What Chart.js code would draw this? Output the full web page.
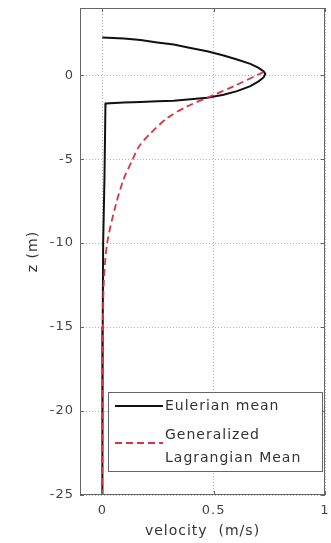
<!DOCTYPE html>
<html>
<head>
<meta charset="utf-8">
<script src="https://cdn.jsdelivr.net/npm/chart.js@4.4.0/dist/chart.umd.min.js"></script>
<style>
  html, body { margin: 0; padding: 0; background: #fff; }
</style>
</head>
<body>
<canvas id="profileChart" width="331" height="543"></canvas>
<script>
// values: depth z (m) and velocity u (m/s)
const eulerZ = [2.25, 2.19, 2.09, 1.95, 1.82, 1.62, 1.42, 1.17, 0.93, 0.67, 0.43, 0.22, 0.08,
  -0.12, -0.37, -0.65, -0.95, -1.17, -1.34, -1.44, -1.52, -1.56, -1.6, -1.62, -1.68,
  -2, -6, -10, -15, -20, -25];
const eulerU = [0, 0.097, 0.172, 0.247, 0.321, 0.396, 0.471, 0.545, 0.605, 0.665, 0.702, 0.725, 0.732,
  0.725, 0.702, 0.665, 0.605, 0.545, 0.471, 0.396, 0.321, 0.247, 0.172, 0.097, 0.015,
  0.014, 0.01, 0.004, 0.002, 0.001, 0];
const glmZ = [0.18, -0.66, -1.26, -1.86, -2.56, -3.46, -4.26, -5.06, -6.16, -7.76, -10, -12.3, -15, -20, -25];
const glmU = [0.723, 0.59, 0.486, 0.381, 0.291, 0.217, 0.164, 0.135, 0.097, 0.06, 0.022, 0.007, 0.003, 0.001, 0];
const xTicks = [0, 0.5, 1];
const yTicks = [-25, -20, -15, -10, -5, 0];
const seriesNames = ['Eulerian mean', 'Generalized', 'Lagrangian Mean'];

const FONT = 'DejaVu Sans';
const RED = '#dc3246';

// MATLAB-like box, inner ticks and legend inside the axes
const boxPlugin = {
  id: 'boxPlugin',
  beforeDraw(chart) {
    chart.ctx.letterSpacing = '1px';
  },
  afterDraw(chart) {
    const ctx = chart.ctx;
    const ca = chart.chartArea;
    const xs = chart.scales.x, ys = chart.scales.y;
    ctx.save();
    ctx.strokeStyle = '#666';
    ctx.lineWidth = 1;
    ctx.strokeRect(ca.left + 0.5, ca.top + 0.5, ca.right - ca.left - 1, ca.bottom - ca.top - 1);
    ctx.beginPath();
    xTicks.forEach(v => {
      const px = Math.round(xs.getPixelForValue(v)) + 0.5;
      ctx.moveTo(px, ca.bottom); ctx.lineTo(px, ca.bottom - 4);
      ctx.moveTo(px, ca.top); ctx.lineTo(px, ca.top + 4);
    });
    yTicks.forEach(v => {
      const py = Math.round(ys.getPixelForValue(v)) + 0.5;
      ctx.moveTo(ca.left, py); ctx.lineTo(ca.left + 4, py);
      ctx.moveTo(ca.right, py); ctx.lineTo(ca.right - 4, py);
    });
    ctx.stroke();

    // legend
    const bx = ca.left + 28, by = ca.bottom - 103;
    const bw = ca.right - 3 - bx, bh = 79;
    ctx.fillStyle = '#fff';
    ctx.fillRect(bx, by, bw, bh);
    ctx.strokeStyle = '#666';
    ctx.strokeRect(bx + 0.5, by + 0.5, bw, bh);

    ctx.lineWidth = 2;
    ctx.strokeStyle = '#111';
    ctx.beginPath();
    ctx.moveTo(bx + 7, by + 14); ctx.lineTo(bx + 55, by + 14);
    ctx.stroke();
    ctx.strokeStyle = RED;
    ctx.lineWidth = 1.8;
    ctx.setLineDash([7, 4]);
    ctx.beginPath();
    ctx.moveTo(bx + 7, by + 51); ctx.lineTo(bx + 55, by + 51);
    ctx.stroke();
    ctx.setLineDash([]);

    ctx.letterSpacing = '1px';
    ctx.fillStyle = '#333';
    ctx.font = '14px "' + FONT + '"';
    ctx.textAlign = 'left';
    ctx.textBaseline = 'middle';
    ctx.fillText(seriesNames[0], bx + 57, by + 14);
    ctx.fillText(seriesNames[1], bx + 57, by + 43);
    ctx.fillText(seriesNames[2], bx + 57, by + 66);
    ctx.restore();
  }
};

const ctx = document.getElementById('profileChart').getContext('2d');
const profileChart = new Chart(ctx, {
  type: 'scatter',
  data: {
    datasets: [{
      label: seriesNames[0],
      data: eulerU.map((u, i) => ({ x: u, y: eulerZ[i] })),
      showLine: true,
      borderColor: '#111',
      borderWidth: 2,
      pointRadius: 0,
      tension: 0,
      order: 2
    }, {
      label: seriesNames[1] + ' ' + seriesNames[2],
      data: glmU.map((u, i) => ({ x: u, y: glmZ[i] })),
      showLine: true,
      borderColor: RED,
      borderWidth: 1.8,
      borderDash: [7, 4],
      pointRadius: 0,
      tension: 0.3,
      order: 1
    }]
  },
  options: {
    responsive: false,
    animation: false,
    devicePixelRatio: 1,
    layout: { padding: { top: 8, right: 6, left: 0, bottom: 0 } },
    plugins: {
      legend: { display: false },
      tooltip: { enabled: false }
    },
    scales: {
      x: {
        type: 'linear',
        min: -0.1,
        max: 1,
        afterBuildTicks: s => { s.ticks = xTicks.map(v => ({ value: v })); },
        afterFit: s => { s.height = 48; s.paddingLeft = 0; s.paddingRight = 0; },
        grid: { color: '#b0b0b0', drawTicks: false },
        border: { display: false, dash: [1, 2] },
        ticks: {
          padding: 8,
          autoSkip: false,
          maxRotation: 0,
          color: '#444',
          font: { family: FONT, size: 13 },
          callback: v => String(v)
        },
        title: {
          display: true,
          text: 'velocity  (m/s)',
          color: '#333',
          font: { family: FONT, size: 14 },
          padding: { top: 0, bottom: 3 }
        }
      },
      y: {
        type: 'linear',
        min: -25,
        max: 4,
        afterBuildTicks: s => { s.ticks = yTicks.map(v => ({ value: v })); },
        afterFit: s => { s.width = 80; s.paddingTop = 0; s.paddingBottom = 0; },
        grid: { color: '#b0b0b0', drawTicks: false },
        border: { display: false, dash: [1, 2] },
        ticks: {
          padding: 6,
          autoSkip: false,
          color: '#444',
          font: { family: FONT, size: 13 },
          callback: v => String(v)
        },
        title: {
          display: true,
          text: 'z (m)',
          color: '#333',
          font: { family: FONT, size: 14 },
          padding: { top: 25, bottom: 0 }
        }
      }
    }
  },
  plugins: [boxPlugin]
});
</script>
</body>
</html>
